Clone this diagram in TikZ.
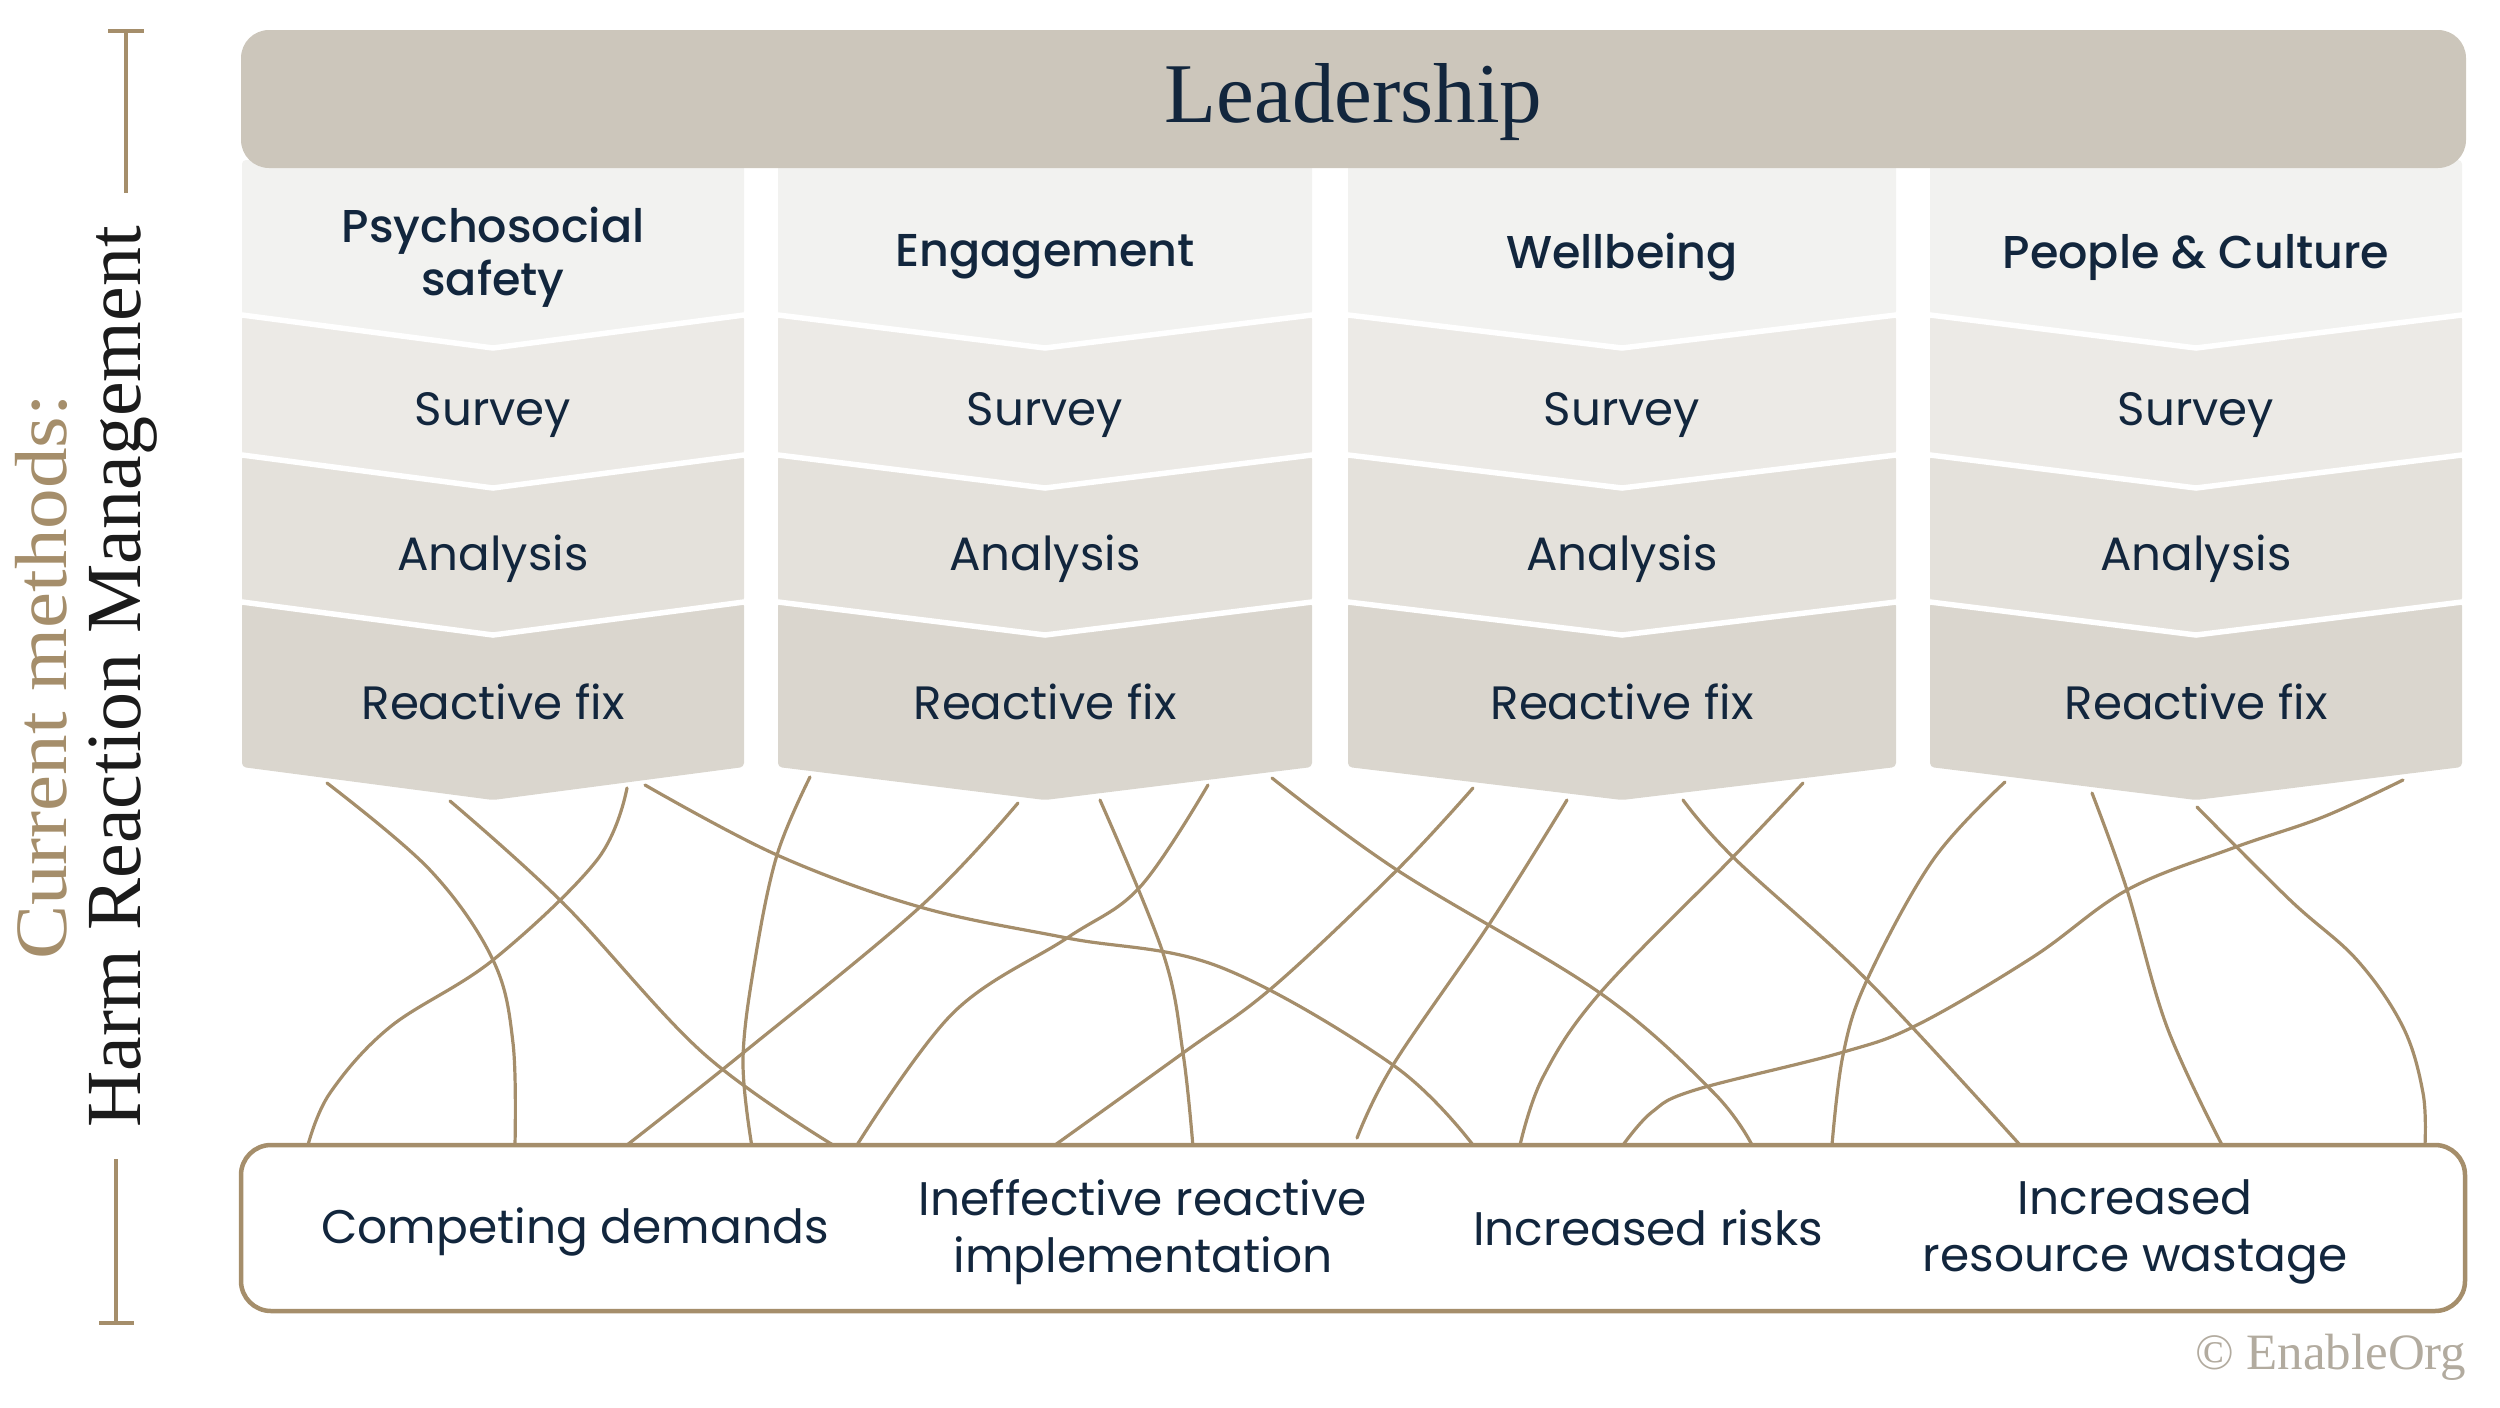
\documentclass[tikz,border=0pt]{standalone}
\usepackage{fontspec}
\setmainfont{Liberation Serif}
\newfontfamily\popreg{Poppins}
\newfontfamily\popmed{Poppins Medium}
\newfontfamily\sidewide{Liberation Serif}[FakeStretch=1.1]
\usetikzlibrary{positioning}

\definecolor{gold}{HTML}{A58E6B}
\definecolor{navy}{HTML}{12263D}
\definecolor{ink}{HTML}{1B1B1B}
\definecolor{barfill}{HTML}{CCC6BB}
\definecolor{bandA}{HTML}{F2F2F0}
\definecolor{bandB}{HTML}{ECEAE6}
\definecolor{bandC}{HTML}{E4E1DB}
\definecolor{bandD}{HTML}{DAD6CE}
\definecolor{stampgrey}{HTML}{B2AB9F}

\tikzset{
  band/.style={rounded corners=0.4mm},
  sep/.style={draw=white, line width=0.55mm},
  colhead/.style={font=\popmed\fontsize{13.1}{15}\selectfont, text=navy, align=center, inner sep=0pt},
  steptext/.style={font=\popreg\fontsize{13.3}{15}\selectfont, text=navy, anchor=base, inner sep=0pt},
  effect/.style={font=\popreg\fontsize{13.4}{16}\selectfont, text=navy, align=center, inner sep=0pt},
  thread/.style={draw=gold, line width=0.32mm, line cap=round},
  sidehead/.style={rotate=90, anchor=base, inner sep=0pt},
  bracket/.style={draw=gold, line width=0.45mm}
}

\begin{document}
\begin{tikzpicture}[x=0.1mm, y=-0.1mm]
\useasboundingbox (0,0) rectangle (2500,1407);

% side title
\draw[bracket] (108,31) -- (144,31);
\draw[bracket] (126,31) -- (126,193);
\draw[bracket] (116,1159) -- (116,1323);
\draw[bracket] (99,1323) -- (134,1323);
\node[sidehead, text=gold, font=\sidewide\fontsize{21}{24}\selectfont] (current) at (66,677) {Current methods:};
\node[sidehead, text=ink, font=\fontsize{22.2}{24}\selectfont] (harm) at (140,677) {Harm Reaction Management};

% columns
\foreach \l/\r/\cid/\ctitle in {242/744/psy/{Psychosocial\\safety}, 778/1312/eng/Engagement, 1348/1896/well/Wellbeing, 1930/2462/pc/{People \& Culture}} {
  \pgfmathsetmacro{\cx}{(\l+\r)/2}
  \fill[bandA, band] (\l,160) -- (\r,160) -- (\r,315) -- (\cx,348) -- (\l,315) -- cycle;
  \fill[bandB, band] (\l,315) -- (\cx,348) -- (\r,315) -- (\r,455) -- (\cx,488) -- (\l,455) -- cycle;
  \fill[bandC, band] (\l,455) -- (\cx,488) -- (\r,455) -- (\r,602) -- (\cx,635) -- (\l,602) -- cycle;
  \fill[bandD, band] (\l,602) -- (\cx,635) -- (\r,602) -- (\r,767) -- (\cx,800) -- (\l,767) -- cycle;
  \draw[sep] (\l,315) -- (\cx,348) -- (\r,315);
  \draw[sep] (\l,455) -- (\cx,488) -- (\r,455);
  \draw[sep] (\l,602) -- (\cx,635) -- (\r,602);
  \node[colhead] (\cid-head) at (\cx,257) {\ctitle};
  \node[steptext] (\cid-survey) at (\cx,425) {Survey};
  \node[steptext] (\cid-analysis) at (\cx,570) {Analysis};
  \node[steptext] (\cid-fix) at (\cx,719) {Reactive fix};
}

% top bar
\node[fill=barfill, rounded corners=2.8mm, minimum width=222.5mm, minimum height=13.8mm,
  text=navy, text height=18.9pt, text depth=5.3pt, font=\fontsize{24.2}{26}\selectfont] (lead) at (1353.5,99) {Leadership};

% tangle
\draw[thread] plot[smooth, tension=0.6] coordinates {(327,783) (430,870) (493,960) (513,1043) (515,1145)};
\draw[thread] plot[smooth, tension=0.6] coordinates {(450,801) (563,903) (703,1053) (833,1145)};
\draw[thread] plot[smooth, tension=0.6] coordinates {(627,788) (597,860) (493,960) (390,1027) (330,1093) (308,1145)};
\draw[thread] plot[smooth, tension=0.6] coordinates {(645,785) (777,855) (920,907) (1067,938) (1220,967) (1393,1065) (1473,1145)};
\draw[thread] plot[smooth, tension=0.6] coordinates {(1018,803) (920,907) (743,1053) (627,1145)};
\draw[thread] plot[smooth, tension=0.6] coordinates {(810,777) (777,855) (755,960) (743,1060) (752,1147)};
\draw[thread] plot[smooth, tension=0.6] coordinates {(1100,800) (1163,953) (1183,1053) (1193,1147)};
\draw[thread] plot[smooth, tension=0.6] coordinates {(1208,785) (1140,887) (1067,938) (953,1013) (857,1145)};
\draw[thread] plot[smooth, tension=0.6] coordinates {(1473,788) (1397,870) (1273,987) (1183,1053) (1055,1145)};
\draw[thread] plot[smooth, tension=0.6] coordinates {(1272,778) (1397,870) (1600,993) (1713,1092) (1752,1145)};
\draw[thread] plot[smooth, tension=0.6] coordinates {(1567,800) (1490,923) (1393,1065) (1357,1138)};
\draw[thread] plot[smooth, tension=0.6] coordinates {(1683,800) (1733,857) (1867,980) (2020,1145)};
\draw[thread] plot[smooth, tension=0.6] coordinates {(1803,783) (1733,857) (1600,993) (1543,1077) (1520,1145)};
\draw[thread] plot[smooth, tension=0.6] coordinates {(1623,1145) (1652,1112) (1695,1090) (1840,1053) (1917,1025) (2033,957) (2127,890) (2233,848) (2323,817) (2403,780)};
\draw[thread] plot[smooth, tension=0.6] coordinates {(2005,782) (1933,860) (1867,980) (1843,1055) (1832,1145)};
\draw[thread] plot[smooth, tension=0.6] coordinates {(2092,793) (2127,890) (2167,1027) (2222,1145)};
\draw[thread] plot[smooth, tension=0.6] coordinates {(2197,807) (2290,900) (2357,960) (2403,1027) (2423,1093) (2425,1145)};

% outcomes
\node[draw=gold, line width=0.45mm, fill=white, rounded corners=3mm, minimum width=222.4mm,
  minimum height=16.6mm] (effects) at (1353,1228) {};
\node[effect] (compete) at (575,1232) {Competing demands};
\node[effect] (ineffective) at (1143,1232) {Ineffective reactive\\implementation};
\node[effect, anchor=base] (risks) at (1648,1245) {Increased risks};
\node[effect] (wastage) at (2135,1232) {Increased\\resource wastage};

\node[anchor=east, inner sep=0pt, text=stampgrey, font=\fontsize{14.5}{16}\selectfont] (stamp) at (2467,1357) {© EnableOrg};
\end{tikzpicture}
\end{document}
